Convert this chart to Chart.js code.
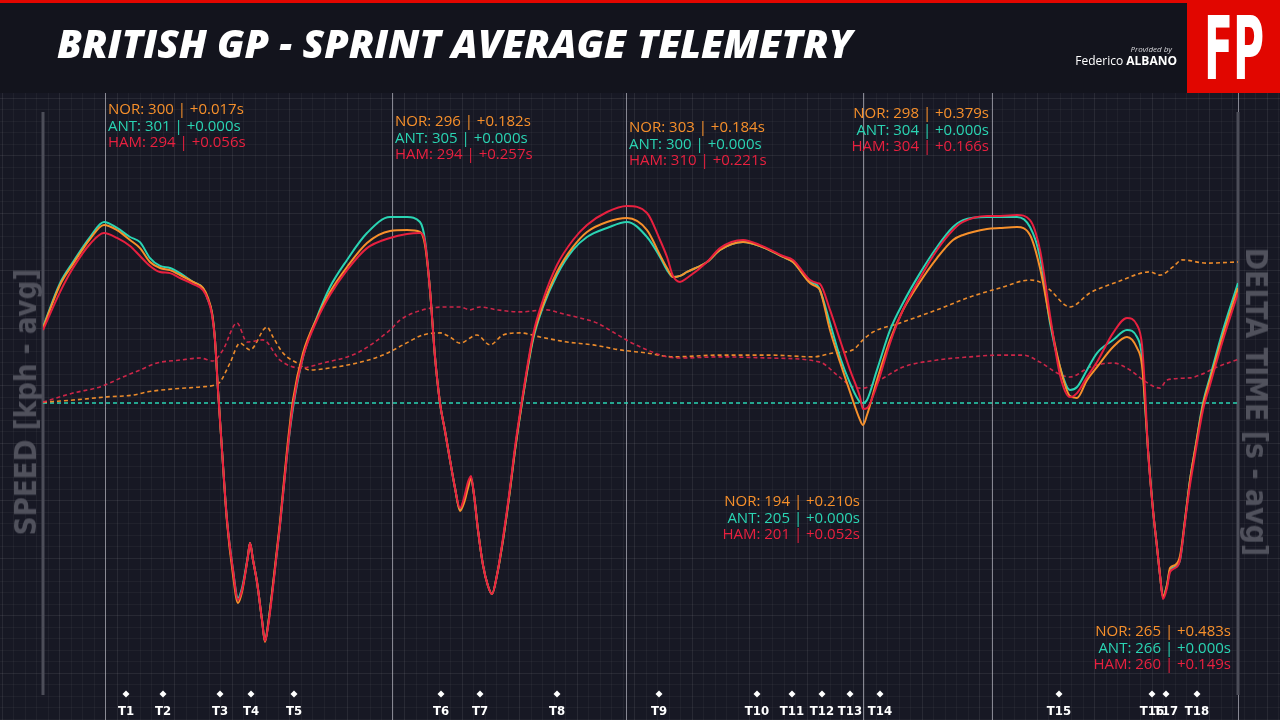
<!DOCTYPE html>
<html>
<head>
<meta charset="utf-8">
<script src="https://cdn.jsdelivr.net/npm/chart.js@4.4.1/dist/chart.umd.min.js"></script>
<style>
  html, body { margin: 0; padding: 0; background: #13141d; }
  #wrap { position: relative; width: 1280px; height: 720px; overflow: hidden; background: #13141d; }
  #telemetry { position: absolute; left: 0; top: 0; }
  .redline { position: absolute; left: 0; top: 0; width: 1187px; height: 3px; background: #e10600; }
  .title { position: absolute; left: 57px; top: 23px; font: italic 800 39px "Open Sans"; line-height: 1; color: #fff; white-space: nowrap; transform-origin: left top; }
  .logo { position: absolute; left: 1187px; top: 0; width: 93px; height: 93px; background: #e10600; }
  .logo span { position: absolute; font: bold 88px "DejaVu Sans Condensed"; line-height: 1; color: #fff; white-space: nowrap; transform-origin: 50% 50%; }
  .provided { position: absolute; right: 108px; top: 43px; font: italic 8px "Open Sans"; color: #d8d8dc; white-space: nowrap; }
  .author { position: absolute; right: 103px; top: 52px; font: 12px "Open Sans"; color: #fff; white-space: nowrap; }
  .author b { font-weight: 700; }
  .axis-title { position: absolute; font: bold 30px "DejaVu Sans"; line-height: 1; color: #50515c; white-space: nowrap; transform-origin: 50% 50%; }
</style>
</head>
<body>
<div id="wrap">
  <canvas id="telemetry" width="1280" height="720"></canvas>
  <div class="redline"></div>
  <div class="title" id="title">BRITISH GP - SPRINT AVERAGE TELEMETRY</div>
  <div class="provided">Provided by</div>
  <div class="author">Federico <b>ALBANO</b></div>
  <div class="logo"><span id="fp">FP</span></div>
  <div class="axis-title" id="speedTitle">SPEED [kph - avg]</div>
  <div class="axis-title" id="deltaTitle">DELTA TIME [s - avg]</div>
</div>
<script>
// distance along the lap (m) and average speeds (kph)
const distance = [0,85,150,235,305,370,435,485,535,585,635,685,750,800,825,845,860,875,895,920,950,975,995,1010,1025,1035,1050,1070,1095,1110,1125,1145,1185,1220,1250,1300,1370,1435,1520,1620,1735,1820,1885,1910,1935,1960,1985,2010,2035,2060,2085,2105,2125,2140,2155,2175,2200,2225,2245,2270,2300,2335,2360,2395,2450,2500,2570,2650,2720,2820,2920,3020,3085,3120,3150,3185,3220,3320,3385,3500,3585,3700,3750,3835,3870,3885,3935,3985,4035,4085,4100,4120,4170,4235,4300,4385,4470,4550,4600,4720,4785,4870,4935,4985,5035,5085,5135,5170,5220,5270,5350,5420,5470,5495,5510,5525,5550,5570,5585,5600,5620,5635,5660,5685,5710,5735,5760,5800,5835,5900,5975];
const antSpeed = [245.4,268.8,280.0,293.3,301.3,298.1,293.3,290.6,282.1,277.9,276.8,274.1,269.4,266.2,259.8,252.9,238.5,211.9,180.0,142.8,116.2,101.3,106.6,114.6,124.1,130.5,121.5,109.8,89.6,78.4,86.9,103.9,140.1,177.3,202.3,229.5,250.7,266.7,281.1,295.4,303.9,303.9,301.3,291.7,265.1,229.5,205.0,190.1,174.7,159.8,148.1,153.4,161.4,165.1,156.1,137.4,118.8,107.7,103.4,113.5,132.1,158.7,180.0,205.0,238.5,256.1,273.1,286.4,293.3,298.1,301.3,293.3,282.7,275.7,272.0,272.6,274.7,280.0,286.4,290.6,288.5,282.7,280.0,269.4,267.8,265.1,247.6,229.5,215.6,205.5,205.0,206.6,222.6,243.8,258.2,274.1,288.0,298.6,302.3,303.9,303.9,303.9,298.6,282.7,247.6,224.1,211.9,213.5,222.6,231.6,238.5,243.8,240.1,229.5,205.0,180.0,148.1,128.4,113.5,101.8,108.2,116.2,117.8,121.5,142.8,164.0,180.0,205.0,218.8,243.8,268.8];
const norSpeed = [244.9,267.8,278.9,292.2,299.7,297.0,291.7,287.4,280.0,276.8,275.7,273.1,269.4,266.2,260.9,252.9,238.5,211.9,180.0,141.7,113.5,98.6,104.5,113.5,123.6,130.5,121.5,109.8,89.6,77.9,86.9,103.9,141.7,180.0,206.6,231.6,250.2,264.0,277.3,290.1,296.5,297.0,296.0,289.0,265.1,229.5,205.0,190.1,174.7,159.8,147.6,151.8,159.8,165.1,156.1,137.4,118.8,107.7,103.4,113.5,132.1,158.7,180.0,205.5,239.6,257.1,274.7,288.0,296.0,301.3,303.4,297.0,283.7,276.8,272.0,272.6,274.7,280.0,286.4,290.6,288.5,282.7,280.0,268.8,266.7,265.1,243.8,226.8,210.9,196.0,193.3,198.6,217.2,238.5,254.5,269.4,282.1,291.7,294.4,297.6,298.1,298.6,294.4,276.8,249.1,224.1,208.7,207.7,217.2,224.1,234.8,240.1,234.3,225.2,205.0,180.0,148.1,128.4,113.5,101.8,108.2,117.2,118.8,123.6,142.8,164.0,180.0,203.9,217.2,241.2,266.2];
const hamSpeed = [243.8,264.0,276.8,289.6,295.4,292.8,288.5,283.2,277.9,274.7,274.1,271.5,268.3,265.1,259.8,251.8,238.5,211.9,180.0,142.8,116.2,100.2,105.5,113.5,123.6,130.5,121.5,109.8,89.6,78.4,85.9,102.3,140.1,177.3,203.9,229.5,249.1,262.4,275.7,287.4,292.8,294.9,295.4,290.6,265.1,229.5,205.0,190.1,174.7,159.8,149.1,154.5,163.0,166.2,156.1,137.4,118.8,107.7,103.4,113.5,133.2,159.8,181.6,206.6,241.2,259.8,278.4,291.7,299.7,306.6,309.8,306.1,291.7,282.7,272.6,269.4,271.5,280.0,287.4,291.7,289.0,283.2,281.1,270.4,268.8,268.3,254.5,238.5,222.6,208.2,201.8,202.3,214.6,236.9,254.5,271.5,286.4,297.0,301.3,304.5,304.5,305.0,302.3,286.4,251.8,219.9,208.2,210.3,218.8,226.8,242.2,250.2,246.5,235.9,211.9,180.0,148.1,128.4,113.5,100.7,106.6,115.1,117.2,121.5,141.7,161.4,177.3,201.3,214.6,238.5,263.5];

// time delta to ANT (s)
const norDeltaDist = [0,150,320,450,520,650,785,860,885,935,985,1035,1120,1150,1200,1270,1335,1435,1570,1700,1800,1900,1985,2035,2085,2170,2235,2300,2385,2485,2620,2750,2885,3020,3150,3385,3635,3850,3950,4050,4100,4150,4285,4470,4635,4785,4935,4985,5035,5135,5235,5370,5535,5585,5650,5695,5820,5975];
const norDelta = [0.003,0.010,0.021,0.027,0.038,0.048,0.055,0.062,0.072,0.137,0.205,0.182,0.260,0.226,0.171,0.137,0.113,0.120,0.137,0.164,0.199,0.233,0.240,0.226,0.205,0.233,0.199,0.233,0.240,0.226,0.209,0.199,0.182,0.171,0.158,0.164,0.164,0.158,0.171,0.182,0.216,0.243,0.274,0.319,0.363,0.394,0.421,0.414,0.387,0.329,0.377,0.414,0.449,0.438,0.466,0.490,0.479,0.483];
const hamDeltaDist = [0,150,285,400,485,570,685,785,850,900,970,1020,1100,1185,1285,1400,1570,1735,1785,1900,2020,2085,2135,2185,2270,2385,2520,2585,2685,2770,2850,2935,3020,3120,3185,3385,3635,3885,3970,4050,4100,4185,4300,4470,4635,4785,4900,4985,5070,5135,5235,5350,5435,5500,5585,5620,5735,5785,5870,5975];
const hamDelta = [0.003,0.034,0.055,0.089,0.113,0.137,0.147,0.154,0.144,0.182,0.274,0.209,0.216,0.147,0.120,0.137,0.171,0.250,0.284,0.319,0.329,0.329,0.319,0.329,0.319,0.312,0.319,0.308,0.291,0.274,0.243,0.209,0.182,0.158,0.154,0.158,0.154,0.140,0.096,0.055,0.051,0.079,0.123,0.147,0.158,0.164,0.164,0.140,0.103,0.089,0.123,0.137,0.113,0.079,0.051,0.079,0.086,0.096,0.123,0.149];
const antDeltaDist = [0, 5975];
const antDelta = [0, 0];

// corners
const turnNames = ["T1","T2","T3","T4","T5","T6","T7","T8","T9","T10","T11","T12","T13","T14","T15","T16","T17","T18"];
const turnDist = [415,600,885,1040,1255,1990,2185,2570,3080,3570,3745,3895,4035,4185,5080,5545,5615,5770];

// reference points with the readouts
const markDist = [310,1745,2915,4745,4100,5975];
const markNor = [300,296,303,298,194,265];
const markAnt = [301,305,300,304,205,266];
const markHam = [294,294,310,304,201,260];
const markNorGap = [0.017,0.182,0.184,0.379,0.210,0.483];
const markAntGap = [0,0,0,0,0,0];
const markHamGap = [0.056,0.257,0.221,0.166,0.052,0.149];

const NOR = "#f7902b", ANT = "#2ad4b3", HAM = "#e8203f";
const LAP = 5975;

// layout of the readout blocks (pixels)
const markAlign = ["left","left","left","right","right","right"];
const markTop = [110,122,128,114,502,632];
const markOffset = [3,3,3,-3,-3,-7];

function pts(xs, ys) { return xs.map((x, i) => ({ x: x, y: ys[i] })); }

const overlay = {
  id: "overlay",
  beforeDraw(chart) {
    const ctx = chart.ctx;
    ctx.save();
    ctx.fillStyle = "#171824";
    ctx.fillRect(0, 93, 1280, 627);
    // fine grid
    let k = 0;
    for (let x = 1.5; x < 1280; x += 11.5, k++) {
      ctx.strokeStyle = k % 5 === 0 ? "rgba(255,255,255,0.075)" : "rgba(255,255,255,0.04)";
      ctx.lineWidth = 1;
      ctx.beginPath(); ctx.moveTo(Math.round(x) + 0.5, 93); ctx.lineTo(Math.round(x) + 0.5, 720); ctx.stroke();
    }
    k = 0;
    for (let y = 97.5; y < 720; y += 11.5, k++) {
      ctx.strokeStyle = k % 5 === 0 ? "rgba(255,255,255,0.075)" : "rgba(255,255,255,0.04)";
      ctx.beginPath(); ctx.moveTo(0, Math.round(y) + 0.5); ctx.lineTo(1280, Math.round(y) + 0.5); ctx.stroke();
    }
    ctx.restore();
  },
  beforeDatasetsDraw(chart) {
    const ctx = chart.ctx, xs = chart.scales.x, area = chart.chartArea;
    ctx.save();
    ctx.strokeStyle = "rgba(225,225,235,0.55)";
    ctx.lineWidth = 1;
    markDist.forEach(d => {
      const px = Math.round(xs.getPixelForValue(d)) + 0.5;
      ctx.beginPath(); ctx.moveTo(px, area.top); ctx.lineTo(px, 720); ctx.stroke();
    });
    ctx.strokeStyle = "#4c4d58";
    ctx.lineWidth = 3;
    [0, LAP].forEach(d => {
      const px = xs.getPixelForValue(d);
      ctx.beginPath(); ctx.moveTo(px, 112); ctx.lineTo(px, 695); ctx.stroke();
    });
    ctx.restore();
  },
  afterDatasetsDraw(chart) {
    const ctx = chart.ctx, xs = chart.scales.x;
    ctx.save();
    ctx.font = '15px "Open Sans"';
    ctx.textBaseline = "middle";
    markDist.forEach((d, i) => {
      const px = xs.getPixelForValue(d) + markOffset[i];
      ctx.textAlign = markAlign[i];
      const rows = [
        ["NOR", markNor[i], markNorGap[i], NOR],
        ["ANT", markAnt[i], markAntGap[i], ANT],
        ["HAM", markHam[i], markHamGap[i], HAM]
      ];
      rows.forEach((r, j) => {
        ctx.fillStyle = r[3];
        ctx.fillText(r[0] + ": " + r[1] + " | +" + r[2].toFixed(3) + "s", px, markTop[i] + j * 16.6);
      });
    });
    // corners
    ctx.fillStyle = "#ffffff";
    ctx.font = 'bold 13px "DejaVu Sans Condensed"';
    ctx.textAlign = "center";
    turnDist.forEach((d, i) => {
      const px = xs.getPixelForValue(d);
      ctx.beginPath();
      ctx.moveTo(px, 690.5); ctx.lineTo(px + 3.5, 694); ctx.lineTo(px, 697.5); ctx.lineTo(px - 3.5, 694);
      ctx.closePath(); ctx.fill();
      ctx.fillText(turnNames[i], px, 712);
    });
    ctx.restore();
  }
};

const speedLine = (label, xs, ys, color, order) => ({
  label: label, data: pts(xs, ys), yAxisID: "speed",
  borderColor: color, borderWidth: 2, pointRadius: 0,
  cubicInterpolationMode: "monotone", order: order
});
const deltaLine = (label, xs, ys, color, order) => ({
  label: label, data: pts(xs, ys), yAxisID: "delta",
  borderColor: color, borderWidth: 1.6, borderDash: [4, 3], pointRadius: 0,
  cubicInterpolationMode: "monotone", order: order
});

new Chart(document.getElementById("telemetry").getContext("2d"), {
  type: "line",
  data: {
    datasets: [
      deltaLine("ANT delta", antDeltaDist, antDelta, ANT, 6),
      deltaLine("NOR delta", norDeltaDist, norDelta, "rgba(247,144,43,0.95)", 5),
      deltaLine("HAM delta", hamDeltaDist, hamDelta, "rgba(214,38,74,0.95)", 4),
      speedLine("ANT", distance, antSpeed, ANT, 3),
      speedLine("NOR", distance, norSpeed, NOR, 2),
      speedLine("HAM", distance, hamSpeed, HAM, 1)
    ]
  },
  options: {
    responsive: false,
    animation: false,
    layout: { padding: { left: 43, right: 42, top: 93, bottom: 0 } },
    plugins: { legend: { display: false }, tooltip: { enabled: false } },
    scales: {
      x: { type: "linear", min: 0, max: LAP, display: false },
      speed: { type: "linear", position: "left", min: 36.4, max: 369.9, display: false },
      delta: { type: "linear", position: "right", min: -1.0856, max: 1.0616, display: false }
    }
  },
  plugins: [overlay]
});

// fit header and axis texts
function fit(id, target, cx, cy, rot) {
  const el = document.getElementById(id);
  const k = target / el.offsetWidth;
  if (rot === undefined) {
    el.style.transform = "scaleX(" + k + ")";
  } else {
    el.style.left = cx + "px";
    el.style.top = cy + "px";
    el.style.transform = "translate(-50%,-50%) rotate(" + rot + "deg) scaleX(" + k + ")";
  }
}
fit("title", 795);
fit("fp", 60, 46.5, 49, 0);
fit("speedTitle", 267, 26, 402, -90);
fit("deltaTitle", 309, 1256, 402, 90);
</script>
</body>
</html>
